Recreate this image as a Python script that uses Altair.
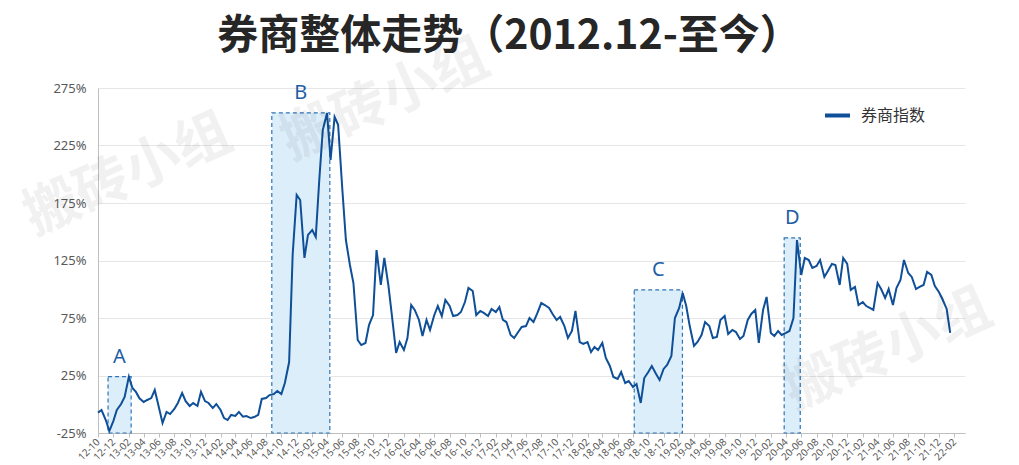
import altair as alt
import pandas as pd

# ---- data ----
values = [
    -7.3, -5.0, -13.7, -23.3, -14.6, -5.0, 0.2, 6.3, 24.0, 14.1,
    10.7, 5.2, 2.0, 3.7, 5.4, 12.4, -3.3, -16.3, -6.7, -8.5,
    -4.1, 1.1, 9.8, 2.7, -1.5, 1.0, -1.5, 10.7, 2.7, 1.1,
    -3.3, 0.2, -5.0, -12.0, -13.7, -9.3, -10.2, -6.7, -10.8, -10.2,
    -12.0, -11.1, -9.3, 4.6, 5.4, 8.0, 8.9, 11.5, 8.9, 18.5,
    36.7, 129.8, 182.0, 177.6, 127.2, 147.2, 151.5, 145.4, 195.0, 238.5,
    253.3, 212.4, 249.8, 243.0, 186.3, 142.8, 121.1, 105.4, 55.9, 51.5,
    53.3, 68.9, 77.6, 134.1, 103.7, 127.2, 103.7, 77.6, 44.6, 54.1,
    47.2, 57.6, 86.3, 82.0, 73.3, 59.4, 73.3, 64.6, 77.6, 85.4,
    76.7, 90.7, 85.4, 76.7, 77.6, 80.2, 88.9, 101.1, 98.5, 77.6,
    81.1, 79.4, 76.7, 82.8, 80.2, 84.6, 73.3, 71.5, 60.2, 57.6,
    62.8, 67.2, 68.0, 75.0, 71.5, 78.5, 88.0, 86.3, 83.7, 78.5,
    73.3, 75.9, 68.0, 57.6, 63.7, 81.1, 54.1, 52.4, 54.1, 45.4,
    49.8, 47.2, 53.3, 40.2, 33.3, 23.7, 22.0, 28.0, 18.5, 20.2,
    15.0, 17.6, 1.1, 22.8, 28.0, 33.3, 26.3, 21.1, 30.7, 34.1,
    42.0, 75.0, 83.7, 96.7, 85.4, 68.0, 50.7, 54.1, 60.2, 71.5,
    68.0, 57.6, 58.5, 73.3, 76.7, 61.1, 64.6, 62.8, 56.7, 59.4,
    73.3, 78.5, 82.0, 53.3, 82.0, 93.3, 62.0, 59.4, 63.7, 60.2,
    62.0, 63.7, 75.0, 142.8, 112.4, 127.2, 125.4, 118.5, 120.2, 125.4,
    110.7, 115.9, 122.0, 121.1, 103.7, 127.2, 122.0, 99.4, 102.0, 86.3,
    88.9, 85.4, 83.7, 82.0, 105.4, 100.2, 92.4, 100.2, 86.3, 101.1,
    108.0, 125.4, 114.1, 110.7, 100.2, 102.0, 103.7, 115.0, 112.4, 102.8,
    97.6, 91.5, 82.9, 62.0,
]
# semi-monthly observation dates starting 2012-10
dates = pd.date_range("2012-10-01", periods=len(values), freq="SMS").strftime("%Y-%m-%d").tolist()
series_name = "券商指数"

# highlighted periods A-D
box_labels = ["A", "B", "C", "D"]
box_starts = ["2012-11-10", "2014-08-24", "2018-08-06", "2020-03-25"]
box_ends = ["2013-02-10", "2015-04-12", "2019-02-14", "2020-05-28"]
box_mids = ["2012-12-25", "2014-12-17", "2018-11-10", "2020-04-26"]
box_tops = [24.0, 253.3, 99.4, 144.6]

# axis ticks
y_ticks = [-25, 25, 75, 125, 175, 225, 275]
x_tick_dates = pd.date_range("2012-10-01", "2022-02-01", freq="2MS").strftime("%Y-%m-%d").tolist()
x_domain = ["2012-10-01", "2022-03-15"]

title_text = "券商整体走势（2012.12-至今）"
watermark = "搬砖小组"

# ---- build ----
def ms(s):
    return int(pd.Timestamp(s, tz="UTC").timestamp() * 1000)

line_df = pd.DataFrame({"date": dates, "value": values, "series": series_name})
box_df = pd.DataFrame({
    "label": box_labels, "start": box_starts, "end": box_ends,
    "mid": box_mids, "top": box_tops, "bottom": [y_ticks[0]] * len(box_labels),
})
wm_df = pd.DataFrame({"t": [watermark]})
title_df = pd.DataFrame({"t": [title_text]})

BLUE = "#0e4f98"
FONT = "Noto Sans"
CJK = "Noto Sans CJK SC"

xscale = alt.Scale(type="utc", domain=[ms(d) for d in x_domain], nice=False)
yscale = alt.Scale(domain=[y_ticks[0], y_ticks[-1]], nice=False, zero=False)

xaxis = alt.Axis(
    values=[ms(d) for d in x_tick_dates],
    labelExpr="utcFormat(datum.value, '%y-%m')",
    labelAngle=-45, labelAlign="right", labelBaseline="middle",
    labelFontSize=10, labelColor="#595959", labelFont=FONT, labelPadding=3,
    labelOverlap=False, labelFlush=False, labelBound=False,
    domainColor="#bfbfbf", tickColor="#bfbfbf", tickSize=4, grid=False, title=None,
)
yaxis = alt.Axis(
    values=y_ticks, labelExpr="datum.value + '%'",
    labelFontSize=13, labelColor="#595959", labelFont=FONT, labelPadding=12,
    domainColor="#bfbfbf", ticks=False, grid=True, gridColor="#e6e6e6",
    title=None,
)

boxes = alt.Chart(box_df).mark_rect(
    fill="#ddeefb", stroke="#2e75b6", strokeDash=[4, 3], strokeWidth=1.2
).encode(
    x=alt.X("start:T", scale=xscale, axis=xaxis),
    x2="end:T",
    y=alt.Y("top:Q", scale=yscale, axis=yaxis),
    y2="bottom:Q",
)

line = alt.Chart(line_df).mark_line(strokeWidth=2, interpolate="linear").encode(
    x=alt.X("date:T", scale=xscale, axis=xaxis),
    y=alt.Y("value:Q", scale=yscale, axis=yaxis),
    color=alt.Color(
        "series:N",
        scale=alt.Scale(range=[BLUE]),
        legend=alt.Legend(
            title=None, orient="none", legendX=725, legendY=13,
            symbolType="stroke", symbolStrokeWidth=4, symbolSize=625,
            labelFontSize=16, labelColor="#333333", labelFont=CJK,
            labelOffset=9, padding=0,
        ),
    ),
)

letters = alt.Chart(box_df).mark_text(
    dy=-20, fontSize=20, color="#1f5da5", font=FONT, baseline="middle"
).encode(
    x=alt.X("mid:T", scale=xscale, axis=xaxis),
    y=alt.Y("top:Q", scale=yscale, axis=yaxis),
    text="label:N",
)

wm_layers = []
for wx, wy in [(30, 87), (287, 12), (790, 262)]:
    wm_layers.append(
        alt.Chart(wm_df).mark_text(
            fontSize=55, font=CJK, fontWeight="bold",
            color="#000000", opacity=0.05, angle=336,
            align="center", baseline="middle",
        ).encode(x=alt.value(wx), y=alt.value(wy), text="t:N")
    )

title_mark = alt.Chart(title_df).mark_text(
    fontSize=41, font=CJK, fontWeight="bold", color="#262626",
    align="center", baseline="middle",
).encode(x=alt.value(411), y=alt.value(-51), text="t:N")

chart = alt.layer(boxes, line, letters, *wm_layers, title_mark).properties(
    width=867,
    height=345,
    autosize=alt.AutoSizeParams(type="none"),
    padding={"left": 90, "top": 80, "right": 46, "bottom": 30},
    background="white",
).configure_view(stroke=None)

chart.save("out.html", embed_options={"renderer": "svg", "actions": False})
